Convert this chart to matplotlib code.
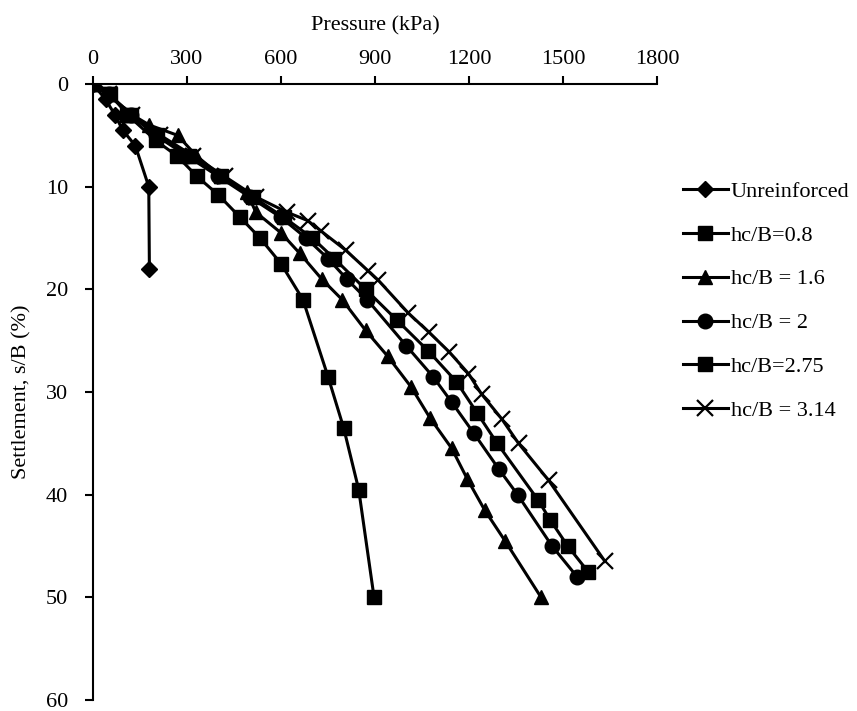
import matplotlib.pyplot as plt

plt.rcParams['font.family'] = ['Liberation Serif', 'DejaVu Serif']

# pressure (kPa) / settlement s/B (%)
unr_p = [0, 40, 70, 95, 135, 178, 180]
unr_s = [0, 1.5, 3, 4.5, 6, 10, 18]

hb08_p = [0, 55, 110, 200, 268, 332, 400, 470, 533, 600, 670, 750, 800, 848, 897]
hb08_s = [0, 1, 3, 5.5, 7, 9, 10.8, 13, 15, 17.5, 21, 28.5, 33.5, 39.5, 50]

hb16_p = [0, 45, 125, 180, 270, 330, 410, 490, 520, 600, 660, 730, 795, 870,
          940, 1015, 1075, 1145, 1195, 1250, 1315, 1430]
hb16_s = [0, 1, 3, 4, 5, 7, 9, 10.5, 12.5, 14.5, 16.5, 19, 21, 24,
          26.5, 29.5, 32.5, 35.5, 38.5, 41.5, 44.5, 50]

hb2_p = [0, 50, 120, 200, 300, 400, 500, 600, 680, 750, 810, 875, 1000, 1085,
         1145, 1215, 1295, 1355, 1465, 1545]
hb2_s = [0, 1, 3, 5, 7, 9, 11, 13, 15, 17, 19, 21, 25.5, 28.5,
         31, 34, 37.5, 40, 45, 48]

hb275_p = [0, 50, 120, 205, 305, 410, 510, 610, 700, 770, 870, 970, 1070, 1160,
           1225, 1290, 1420, 1460, 1515, 1580]
hb275_s = [0, 1, 3, 5, 7, 9, 11, 13, 15, 17, 20, 23, 26, 29,
           32, 35, 40.5, 42.5, 45, 47.5]

hb314_p = [0, 50, 125, 215, 320, 420, 520, 620, 685, 727, 807, 878, 910, 1006,
           1073, 1137, 1198, 1240, 1304, 1358, 1454, 1634]
hb314_s = [0, 1, 3, 5, 7, 9, 11, 12.5, 13.3, 14.3, 16.2, 18.2, 19.1, 22.3,
           24.2, 26.1, 28.2, 30.2, 32.6, 35, 38.6, 46.5]

labels = ["Unreinforced", "hc/B=0.8", "hc/B = 1.6", "hc/B = 2", "hc/B=2.75", "hc/B = 3.14"]

fig = plt.figure(figsize=(8.57, 7.11), dpi=100)
# axes box: left 93px, right 657px, top 84px, bottom 700px
ax = fig.add_axes((93 / 857, 11 / 711, (657 - 93) / 857, (700 - 84) / 711))

lw = 2.2
ax.plot(unr_p, unr_s, color='k', lw=lw, marker='D', ms=8, label=labels[0])
ax.plot(hb08_p, hb08_s, color='k', lw=lw, marker='s', ms=9.5, label=labels[1])
ax.plot(hb16_p, hb16_s, color='k', lw=lw, marker='^', ms=10.5, label=labels[2])
ax.plot(hb2_p, hb2_s, color='k', lw=lw, marker='o', ms=10.5, label=labels[3])
ax.plot(hb275_p, hb275_s, color='k', lw=lw, marker='s', ms=9.5, label=labels[4])
ax.plot(hb314_p, hb314_s, color='k', lw=lw, marker='x', ms=11, mew=1.6, label=labels[5])

ax.set_xlim(0, 1800)
ax.set_ylim(60, 0)
ax.set_xticks(range(0, 1801, 300))
ax.set_yticks(range(0, 61, 10))
ax.xaxis.tick_top()
ax.xaxis.set_label_position('top')
ax.set_xlabel("Pressure (kPa)", fontsize=16, labelpad=14)
ax.set_ylabel("Settlement, s/B (%)", fontsize=16, labelpad=10)
ax.tick_params(axis='both', labelsize=16, width=1.5, length=6, direction='out')
ax.tick_params(axis='x', pad=5)
ax.tick_params(axis='y', pad=12)
ax.spines['right'].set_visible(False)
ax.spines['bottom'].set_visible(False)
ax.spines['top'].set_linewidth(1.5)
ax.spines['left'].set_linewidth(1.5)

ax.legend(loc='upper left', bbox_to_anchor=(672 / 857, 1 - 170 / 711),
          bbox_transform=fig.transFigure, frameon=False, fontsize=16,
          handlelength=2.0, handletextpad=0.15, labelspacing=1.05, borderpad=0)

fig.savefig("out.png", dpi=100)
